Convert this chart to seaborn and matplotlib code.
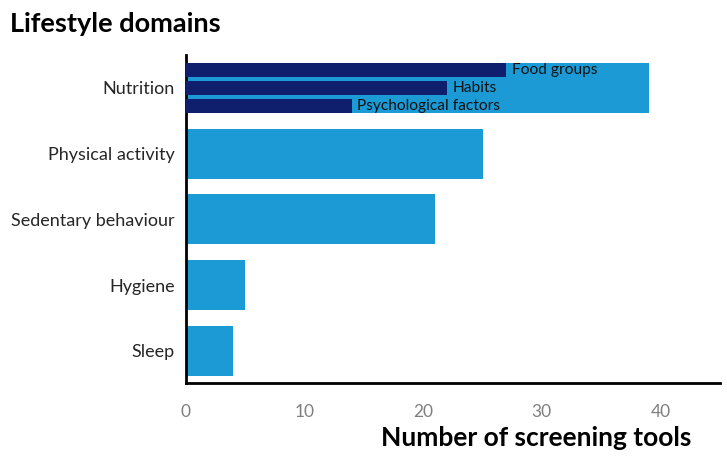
import matplotlib
matplotlib.use("Agg")
import matplotlib.pyplot as plt
import seaborn as sns
import pandas as pd

domains = ["Nutrition", "Physical activity", "Sedentary behaviour", "Hygiene", "Sleep"]
counts = [39, 25, 21, 5, 4]
sub_labels = ["Food groups", "Habits", "Psychological factors"]
sub_counts = [27, 22, 14]

light_blue = "#1B9AD6"
navy = "#0F1F6E"

sns.set_theme(style="white")
plt.rcParams["font.family"] = ["Lato", "DejaVu Sans"]

fig = plt.figure(figsize=(7.27, 4.62), dpi=100)
ax = fig.add_axes([0.2558, 0.171, 0.7342, 0.710])

df = pd.DataFrame({"domain": domains, "count": counts})
sns.barplot(data=df, x="count", y="domain", orient="h", color=light_blue,
            saturation=1, width=0.76, linewidth=0, edgecolor="none", ax=ax)

offsets = [-0.273, 0.0, 0.273]
ypos = [0 + o for o in offsets]
ax.barh(ypos, sub_counts, height=0.215, color=navy, edgecolor="none",
        linewidth=0, zorder=3)
for y, v, lab in zip(ypos, sub_counts, sub_labels):
    ax.text(v + 0.45, y, lab, va="center", ha="left", fontsize=11.2,
            color="#111111", zorder=4)

ax.set_xlim(0, 45)
ax.set_ylim(4.49, -0.5)
ax.set_xticks([0, 10, 20, 30, 40])
ax.tick_params(axis="x", labelsize=12.5, length=0, pad=15)
ax.tick_params(axis="y", labelsize=13, length=0, pad=8)
for lbl in ax.get_xticklabels():
    lbl.set_color("#7f7f7f")
for lbl in ax.get_yticklabels():
    lbl.set_color("#262626")

ax.set_ylabel("")
ax.set_xlabel("")
sns.despine(ax=ax)
for s in ["left", "bottom"]:
    ax.spines[s].set_color("black")
    ax.spines[s].set_linewidth(2)

fig.text(0.014, 0.948, "Lifestyle domains", fontsize=19.5, fontweight="bold",
         ha="left", va="center", color="black")
fig.text(0.737, 0.053, "Number of screening tools", fontsize=19, fontweight="bold",
         ha="center", va="center", color="black")

fig.savefig("out.png", dpi=100)
